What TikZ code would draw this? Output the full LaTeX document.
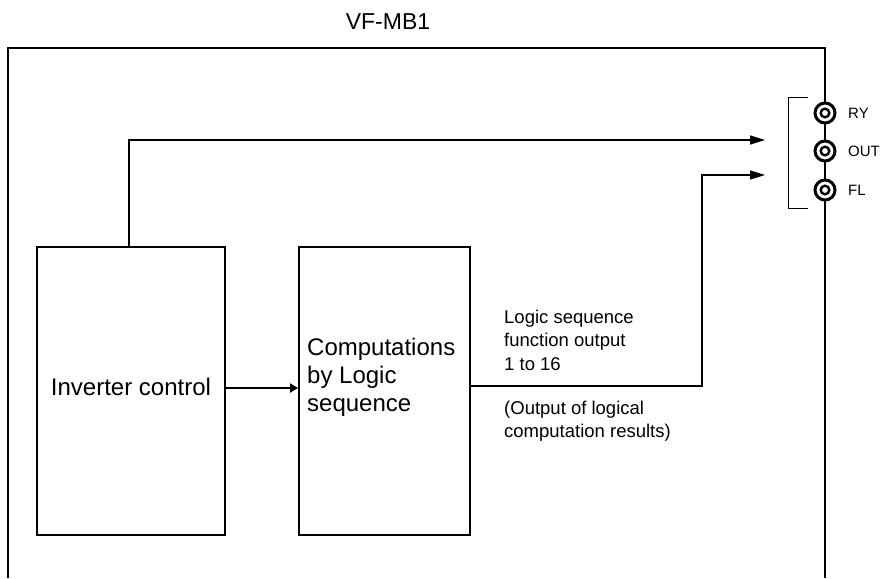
\documentclass[tikz,border=0pt]{standalone}
\usepackage{fontspec}
\setmainfont{Liberation Sans}
\usetikzlibrary{arrows.meta, positioning}
\tikzset{
    frame/.style={line width=2.2pt},
    block/.style={draw, line width=2pt, inner sep=0pt},
    sig/.style={line width=1.3pt, -{Triangle[length=15pt, width=9pt]}},
    feed/.style={line width=2.6pt, -{Triangle[length=8pt, width=9pt]}},
    terminal/.style={draw, circle, fill=white, line width=3pt, minimum size=20pt,
        inner sep=0pt},
    terminner/.style={draw, circle, line width=2.4pt, minimum size=8.6pt, inner sep=0pt},
    big/.style={font=\fontsize{24}{28}\selectfont, align=left, inner sep=0pt},
    lbl/.style={font=\fontsize{18.5}{23.5}\selectfont, align=left, inner sep=0pt},
    termlab/.style={font=\fontsize{15}{18}\selectfont, inner sep=0pt},
}

\begin{document}
\begin{tikzpicture}[x=1pt, y=-1pt]
    \useasboundingbox (0,0) rectangle (880,578);
    \node[font=\fontsize{23}{27}\selectfont] (title) at (388,22) {VF-MB1};
    % housing
    \draw[frame] (8,578) |- (825,48) -- (825,578);
    \draw[line width=1pt] (808,97) -| (788,208) -- (808,208);
    % blocks
    \node[block, minimum width=188pt, minimum height=288pt] (inv) at (131,391) {};
    \node[big, align=center] (invtxt) at (131,387) {Inverter control};
    \node[block, minimum width=171pt, minimum height=288pt] (comp) at (384.5,391) {};
    \node[big, anchor=west] (comptxt) at (307,377) {Computations\\by Logic\\sequence};
    \node[lbl, anchor=west] (fnout) at (504,340) {Logic sequence\\function output\\1 to 16};
    \node[lbl, anchor=west] (result) at (504,421) {(Output of logical\\computation results)};
    % terminals
    \foreach \n/\y/\t in {ry/113/RY, out/151/OUT, fl/190/FL} {
        \node[terminal] (\n) at (825,\y) {};
        \node[terminner] (\n-in) at (\n) {};
        \node[termlab, anchor=west] (\n-lab) at (848,\y) {\t};
    }
    % connections
    \coordinate (ry-end) at (765,140);
    \coordinate (bend) at (702,175);
    \coordinate (fl-end) at (765,175);
    \draw[sig] ([xshift=-2pt]inv.north) |- (ry-end);
    \draw[sig] ([yshift=5pt]comp.east) -| (bend) -- (fl-end);
    \draw[feed] ([yshift=3pt]inv.east) -- ([yshift=3pt]comp.west);
\end{tikzpicture}
\end{document}
